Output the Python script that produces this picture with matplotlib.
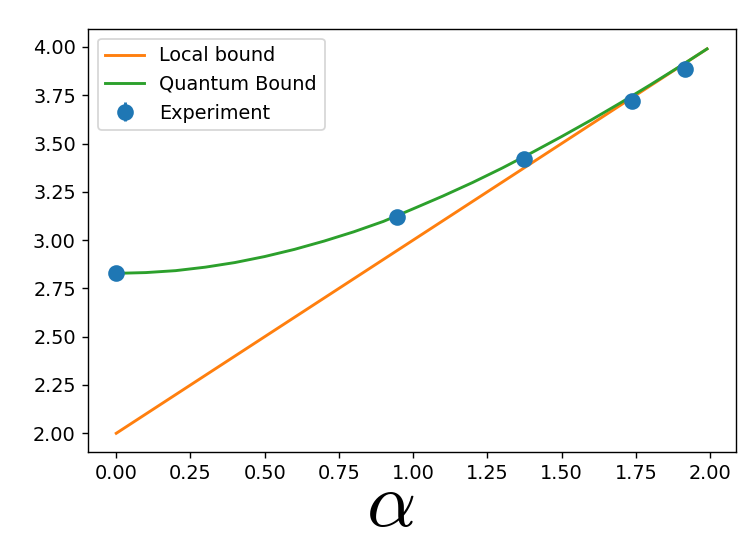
import numpy as np
import matplotlib.pyplot as plt

# experiment points (alpha, measured value)
alpha_exp = [0.0, 0.946, 1.374, 1.737, 1.916]
value_exp = [2.829, 3.119, 3.420, 3.720, 3.886]
err_exp = [0.01, 0.01, 0.01, 0.01, 0.01]

# local bound (straight line)
alpha_local = [0.0, 1.99]
value_local = [2.0, 3.99]

# quantum bound
alpha_q = [0.0, 0.1, 0.2, 0.3, 0.4, 0.5, 0.6, 0.7, 0.8, 0.9, 1.0,
           1.1, 1.2, 1.3, 1.4, 1.5, 1.6, 1.7, 1.8, 1.9, 1.99]
value_q = [2.828, 2.832, 2.842, 2.860, 2.884, 2.915, 2.952, 2.995, 3.043, 3.097, 3.162,
           3.228, 3.298, 3.373, 3.453, 3.536, 3.622, 3.712, 3.805, 3.901, 3.990]

plt.rcParams['mathtext.fontset'] = 'cm'
plt.rcParams['font.size'] = 11
plt.rcParams['lines.linewidth'] = 1.65

fig = plt.figure(figsize=(755 / 126, 542 / 126), dpi=126)
ax = fig.add_axes([0.1166, 0.166, 0.8584, 0.7805])

ax.errorbar(alpha_exp, value_exp, yerr=err_exp, fmt='o', markersize=8.5, label='Experiment')
ax.plot(alpha_local, value_local, label='Local bound')
ax.plot(alpha_q, value_q, label='Quantum Bound')

ax.set_xlim(-0.095, 2.088)
ax.set_ylim(1.903, 4.093)
ax.set_xticks(np.arange(0, 2.01, 0.25))
ax.set_yticks(np.arange(2, 4.01, 0.25))
ax.set_xlabel(r'$\alpha$', fontsize=44)
ax.xaxis.set_label_coords(0.466, -0.038)
ax.legend(loc='upper left')

fig.savefig('out.png', dpi=126)
